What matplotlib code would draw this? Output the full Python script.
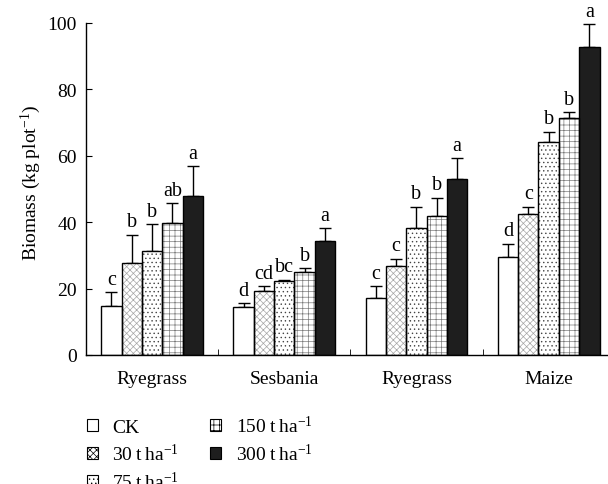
import numpy as np
import matplotlib
matplotlib.use('Agg')
import matplotlib.pyplot as plt
from matplotlib.patches import Patch

plt.rcParams['font.family'] = ['Liberation Serif', 'DejaVu Serif']
plt.rcParams['mathtext.fontset'] = 'custom'
plt.rcParams['mathtext.rm'] = 'Liberation Serif'
plt.rcParams['mathtext.it'] = 'Liberation Serif:italic'
plt.rcParams['font.size'] = 14
plt.rcParams['hatch.linewidth'] = 0.5

# data
crops = ['Ryegrass', 'Sesbania', 'Ryegrass', 'Maize']
treatments = ['CK', '30\u2009t\u2009ha$^{-1}$', '75\u2009t\u2009ha$^{-1}$',
              '150\u2009t\u2009ha$^{-1}$', '300\u2009t\u2009ha$^{-1}$']

ck = [14.8, 14.4, 17.3, 29.5]
t30 = [27.6, 19.4, 26.7, 42.4]
t75 = [31.3, 22.2, 38.2, 64.1]
t150 = [39.7, 24.9, 41.9, 71.5]
t300 = [48.0, 34.4, 53.0, 92.7]

ck_err = [4.1, 1.3, 3.5, 4.0]
t30_err = [8.6, 1.3, 2.3, 2.3]
t75_err = [8.2, 0.5, 6.5, 3.2]
t150_err = [6.0, 1.3, 5.5, 1.6]
t300_err = [8.8, 3.8, 6.3, 6.9]

ck_let = ['c', 'd', 'c', 'd']
t30_let = ['b', 'cd', 'c', 'c']
t75_let = ['b', 'bc', 'b', 'b']
t150_let = ['ab', 'b', 'b', 'b']
t300_let = ['a', 'a', 'a', 'a']

means = [ck, t30, t75, t150, t300]
errs = [ck_err, t30_err, t75_err, t150_err, t300_err]
letters = [ck_let, t30_let, t75_let, t150_let, t300_let]

# fill / hatch style per treatment
faces = ['white', 'white', 'white', 'white', '#1e1e1e']
hatches = [None, 'xxxxx', '....', '+++', None]
hatch_cols = ['black', '#a5a5a5', '#444444', '#7a7a7a', 'black']

fig = plt.figure(figsize=(6.08, 4.85), dpi=100)
ax = fig.add_axes([86 / 608, 1 - 356 / 485, 522 / 608, 332 / 485])

x = np.arange(len(crops))
w = 0.154
handles = []
for j in range(len(means)):
    xs = x + (j - 2) * w
    # hatch layer, then black outline on top
    ax.bar(xs, means[j], w, color=faces[j], edgecolor=hatch_cols[j],
           hatch=hatches[j], linewidth=0, zorder=2)
    ax.bar(xs, means[j], w, fill=False, edgecolor='black', linewidth=1.0, zorder=3)
    ax.errorbar(xs, means[j], yerr=[np.zeros(len(crops)), errs[j]], fmt='none',
                ecolor='black', elinewidth=1.0, capsize=4, capthick=1.0, zorder=1)
    for k in range(len(crops)):
        ax.annotate(letters[j][k], (xs[k], means[j][k] + errs[j][k]),
                    xytext=(0, 6), textcoords='offset points',
                    ha='center', va='baseline', fontsize=14.5, annotation_clip=False)
    handles.append(Patch(facecolor=faces[j], edgecolor='black', hatch=hatches[j],
                         linewidth=0.8, label=treatments[j]))

ax.set_xlim(-0.5, 3.449)
ax.set_ylim(0, 100)
ax.spines['top'].set_visible(False)
ax.spines['right'].set_visible(False)
ax.spines['left'].set_linewidth(1.0)
ax.spines['bottom'].set_linewidth(1.0)

ax.set_yticks([0, 20, 40, 60, 80, 100])
ax.tick_params(axis='y', direction='in', length=4, pad=6.5)
ax.set_xticks(x)
ax.set_xticklabels(crops)
ax.set_xticks([0.5, 1.5, 2.5], minor=True)
ax.tick_params(axis='x', which='major', length=0, pad=11)
ax.tick_params(axis='x', which='minor', direction='in', length=4)

ax.set_ylabel('Biomass (kg plot$^{-1}$)')
ax.yaxis.set_label_coords(-0.082, 0.52)

fig.legend(handles=handles, ncol=2, loc='upper left',
           bbox_to_anchor=(87 / 608, 1 - 416 / 485), frameon=False,
           handlelength=0.55, handleheight=0.55, handletextpad=0.75,
           columnspacing=1.6, labelspacing=0.35, borderpad=0, borderaxespad=0,
           fontsize=14)

fig.savefig('out.png', dpi=100)
